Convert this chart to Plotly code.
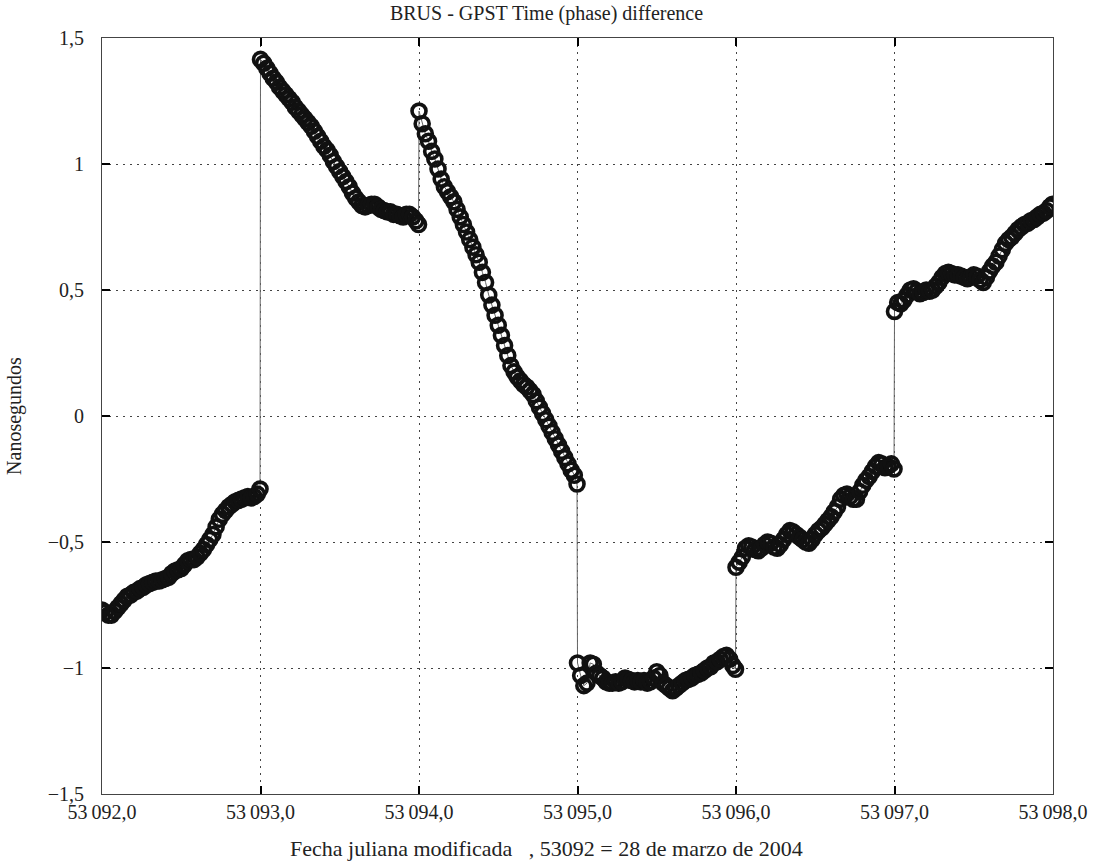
import plotly.graph_objects as go

# Day start values (MJD)
day_starts = [53092, 53093, 53094, 53095, 53096, 53097]
# Sample offsets within each day (fraction of day)
offsets = [0.00, 0.02, 0.04, 0.06, 0.08, 0.10, 0.12, 0.14, 0.16, 0.18,
           0.20, 0.22, 0.24, 0.26, 0.28, 0.30, 0.32, 0.34, 0.36, 0.38,
           0.40, 0.42, 0.44, 0.46, 0.48, 0.50, 0.52, 0.54, 0.56, 0.58,
           0.60, 0.62, 0.64, 0.66, 0.68, 0.70, 0.72, 0.74, 0.76, 0.78,
           0.80, 0.82, 0.84, 0.86, 0.88, 0.90, 0.92, 0.94, 0.96, 0.98, 0.997]

day1 = [-0.77, -0.78, -0.79, -0.79, -0.775, -0.76, -0.745, -0.73, -0.715, -0.71,
        -0.70, -0.695, -0.685, -0.68, -0.67, -0.665, -0.66, -0.655, -0.655, -0.65,
        -0.645, -0.64, -0.625, -0.615, -0.61, -0.605, -0.59, -0.575, -0.57, -0.57,
        -0.56, -0.545, -0.53, -0.51, -0.49, -0.47, -0.44, -0.41, -0.39, -0.375,
        -0.36, -0.35, -0.34, -0.335, -0.33, -0.325, -0.32, -0.325, -0.32, -0.31, -0.29]
day2 = [1.415, 1.40, 1.38, 1.36, 1.34, 1.325, 1.305, 1.29, 1.275, 1.26,
        1.245, 1.225, 1.21, 1.195, 1.18, 1.165, 1.15, 1.13, 1.11, 1.09,
        1.07, 1.055, 1.035, 1.01, 0.99, 0.97, 0.95, 0.93, 0.91, 0.885,
        0.865, 0.85, 0.835, 0.83, 0.835, 0.84, 0.84, 0.83, 0.82, 0.815,
        0.81, 0.81, 0.80, 0.80, 0.795, 0.79, 0.80, 0.80, 0.79, 0.775, 0.76]
day3 = [1.21, 1.16, 1.12, 1.09, 1.05, 1.02, 0.98, 0.94, 0.91, 0.89,
        0.87, 0.85, 0.82, 0.79, 0.76, 0.73, 0.70, 0.67, 0.64, 0.61,
        0.57, 0.53, 0.48, 0.44, 0.40, 0.36, 0.32, 0.28, 0.24, 0.20,
        0.175, 0.155, 0.14, 0.125, 0.115, 0.10, 0.085, 0.06, 0.035, 0.01,
        -0.015, -0.04, -0.065, -0.09, -0.115, -0.14, -0.165, -0.19, -0.215, -0.235, -0.27]
day4 = [-0.98, -1.03, -1.07, -1.06, -0.98, -0.985, -1.02, -1.03, -1.04, -1.055,
        -1.06, -1.06, -1.055, -1.06, -1.055, -1.04, -1.045, -1.05, -1.055, -1.05,
        -1.055, -1.05, -1.06, -1.055, -1.04, -1.015, -1.03, -1.06, -1.07, -1.08,
        -1.09, -1.08, -1.07, -1.06, -1.05, -1.045, -1.04, -1.03, -1.025, -1.02,
        -1.01, -1.0, -0.995, -0.98, -0.975, -0.965, -0.955, -0.95, -0.965, -0.99, -1.005]
day5 = [-0.60, -0.58, -0.56, -0.525, -0.515, -0.52, -0.53, -0.535, -0.525, -0.51,
        -0.50, -0.505, -0.52, -0.525, -0.51, -0.49, -0.47, -0.455, -0.46, -0.47,
        -0.48, -0.49, -0.50, -0.505, -0.49, -0.47, -0.455, -0.445, -0.43, -0.415,
        -0.40, -0.38, -0.36, -0.33, -0.315, -0.31, -0.32, -0.33, -0.33, -0.30,
        -0.275, -0.255, -0.24, -0.22, -0.20, -0.185, -0.19, -0.205, -0.20, -0.19, -0.21]
day6 = [0.415, 0.45, 0.445, 0.46, 0.48, 0.50, 0.505, 0.495, 0.485, 0.49,
        0.50, 0.495, 0.50, 0.515, 0.53, 0.55, 0.565, 0.57, 0.565, 0.56,
        0.56, 0.555, 0.55, 0.545, 0.55, 0.56, 0.555, 0.54, 0.53, 0.55,
        0.575, 0.595, 0.61, 0.635, 0.66, 0.685, 0.70, 0.71, 0.725, 0.74,
        0.75, 0.76, 0.765, 0.775, 0.78, 0.79, 0.80, 0.805, 0.815, 0.83, 0.84]

days = [day1, day2, day3, day4, day5, day6]

x_tick_vals = [53092, 53093, 53094, 53095, 53096, 53097, 53098]
x_tick_text = ["53\u2009092,0", "53\u2009093,0", "53\u2009094,0", "53\u2009095,0",
               "53\u2009096,0", "53\u2009097,0", "53\u2009098,0"]
y_tick_vals = [-1.5, -1.0, -0.5, 0.0, 0.5, 1.0, 1.5]
y_tick_text = ["\u22121,5", "\u22121", "\u22120,5", "0", "0,5", "1", "1,5"]

xs, ys = [], []
for start, vals in zip(day_starts, days):
    for off, v in zip(offsets, vals):
        xs.append(start + off)
        ys.append(v)

FONT = "Liberation Serif, Times New Roman, serif"
W, H = 1093, 862

fig = go.Figure()
fig.add_trace(go.Scatter(
    x=xs, y=ys, mode="lines+markers",
    line=dict(color="#666666", width=1),
    marker=dict(symbol="circle-open", size=14, color="#111111",
                line=dict(width=3.6, color="#111111")),
    showlegend=False,
))

axis_common = dict(
    showline=True, linecolor="#444444", linewidth=1, mirror="ticks",
    ticks="inside", ticklen=8, tickcolor="#000000", tickwidth=1.5,
    showgrid=True, gridcolor="#444444", griddash="2px,5px", gridwidth=1,
    zeroline=False, automargin=False,
    tickfont=dict(family=FONT, size=20, color="#222222"),
)

fig.update_layout(
    width=W, height=H,
    margin=dict(l=102, r=40, t=38, b=68),
    paper_bgcolor="white", plot_bgcolor="white",
    title=dict(text="BRUS - GPST Time (phase) difference",
               x=0.5, xref="container", xanchor="center",
               y=1 - 13 / H, yref="container", yanchor="middle",
               font=dict(family=FONT, size=20, color="#222222")),
    xaxis=dict(range=[53092, 53098], tickvals=x_tick_vals, ticktext=x_tick_text,
               ticklabelstandoff=0, **axis_common),
    yaxis=dict(range=[-1.5, 1.5], tickvals=y_tick_vals, ticktext=y_tick_text,
               ticklabelstandoff=13,
               title=dict(text="Nanosegundos", standoff=20,
                          font=dict(family=FONT, size=20, color="#222222")),
               **axis_common),
    annotations=[dict(
        text="Fecha juliana modificada\u00a0\u00a0\u00a0, 53092 = 28 de marzo de 2004",
        xref="paper", yref="paper", x=(546.5 - 102) / 951, y=0,
        xanchor="center", yanchor="middle", yshift=-54, showarrow=False,
        font=dict(family=FONT, size=22, color="#222222"))],
)

fig.write_html("out.html", config={"displayModeBar": False},
               post_script="document.body.style.margin='0px';document.body.style.overflow='hidden';")
